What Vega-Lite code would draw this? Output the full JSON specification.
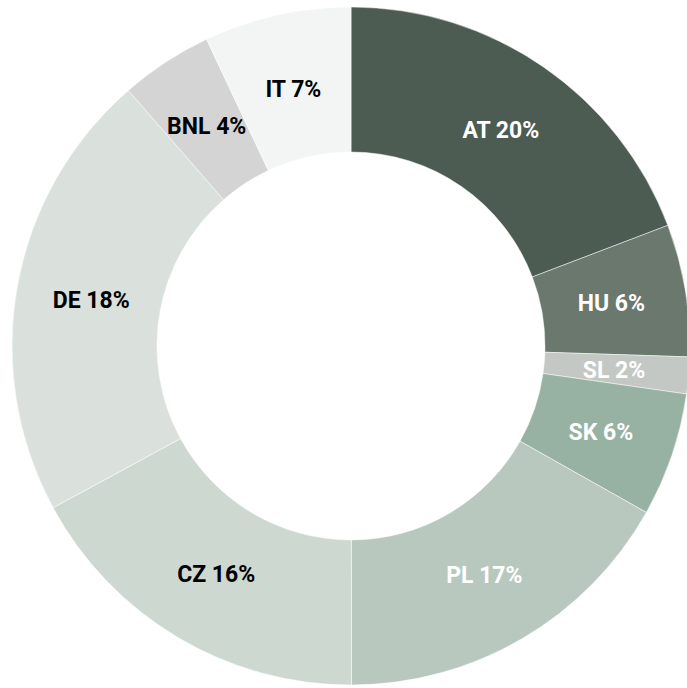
{
  "$schema": "https://vega.github.io/schema/vega-lite/v6.json",
  "width": 702,
  "height": 692,
  "padding": 0,
  "autosize": {"type": "none"},
  "background": "white",
  "view": {"stroke": null},
  "data": {
    "values": [
      {"country": "AT", "label": "AT 20%", "share": 19.2, "order": 1, "tc": "white"},
      {"country": "HU", "label": "HU 6%", "share": 6.3, "order": 2, "tc": "white"},
      {"country": "SL", "label": "SL 2%", "share": 1.75, "order": 3, "tc": "white"},
      {"country": "SK", "label": "SK 6%", "share": 5.9, "order": 4, "tc": "white"},
      {"country": "PL", "label": "PL 17%", "share": 16.8, "order": 5, "tc": "white"},
      {"country": "CZ", "label": "CZ 16%", "share": 17.1, "order": 6, "tc": "black"},
      {"country": "DE", "label": "DE 18%", "share": 21.5, "order": 7, "tc": "black"},
      {"country": "BNL", "label": "BNL 4%", "share": 4.4, "order": 8, "tc": "black"},
      {"country": "IT", "label": "IT 7%", "share": 7.0, "order": 9, "tc": "black"}
    ]
  },
  "encoding": {
    "theta": {"field": "share", "type": "quantitative", "stack": true},
    "order": {"field": "order", "type": "quantitative"}
  },
  "layer": [
    {
      "mark": {"type": "arc", "outerRadius": 339, "innerRadius": 194, "stroke": "white", "strokeWidth": 0.5},
      "encoding": {
        "color": {
          "field": "country",
          "type": "nominal",
          "sort": ["AT", "HU", "SL", "SK", "PL", "CZ", "DE", "BNL", "IT"],
          "scale": {
            "domain": ["AT", "HU", "SL", "SK", "PL", "CZ", "DE", "BNL", "IT"],
            "range": ["#4d5c52", "#6a786e", "#c3c8c4", "#97b1a2", "#b8c8be", "#cdd8d1", "#dae1dd", "#d4d4d4", "#f3f5f4"]
          },
          "legend": null
        }
      }
    },
    {
      "mark": {"type": "text", "radius": 264, "font": "Roboto", "fontWeight": "bold", "fontSize": 23, "align": "center", "baseline": "middle", "dy": 2},
      "encoding": {
        "text": {"field": "label"},
        "color": {"field": "tc", "type": "nominal", "scale": null}
      }
    }
  ]
}
